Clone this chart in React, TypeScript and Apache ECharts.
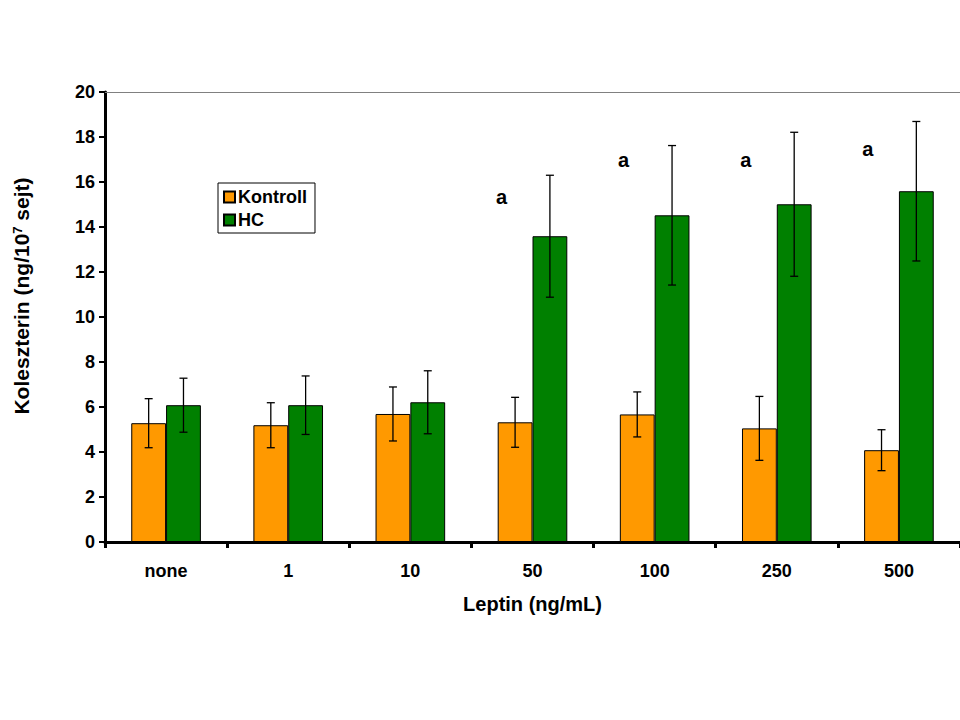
import React, { useEffect, useRef } from "react";
import * as echarts from "echarts";

const categories = ["none", "1", "10", "50", "100", "250", "500"];
const kontrollValues = [5.28, 5.19, 5.69, 5.32, 5.67, 5.05, 4.08];
const kontrollErrors = [1.09, 1.0, 1.2, 1.11, 1.0, 1.42, 0.91];
const hcValues = [6.08, 6.08, 6.21, 13.59, 14.52, 15.01, 15.59];
const hcErrors = [1.2, 1.3, 1.4, 2.71, 3.1, 3.2, 3.1];
const annotationCategories = ["50", "100", "250", "500"];
const annotationValues = [15.35, 16.98, 16.98, 17.45];
const yTicks = { min: 0, max: 20, interval: 2 };

const FONT = "'Liberation Sans', Arial, sans-serif";
const ORANGE = "#FF9900";
const GREEN = "#008000";
const CAT_GAP = 0.43;

function errorSeries(name: string, values: number[], errors: number[], side: number) {
  return {
    type: "custom",
    name: name + " err",
    silent: true,
    z: 5,
    data: values.map((v, i) => [i, v - errors[i], v + errors[i]]),
    renderItem: (params: any, api: any) => {
      const idx = api.value(0);
      const catW = api.size([1, 0])[0];
      const barW = (catW * (1 - CAT_GAP)) / 2;
      const low = api.coord([idx, api.value(1)]);
      const high = api.coord([idx, api.value(2)]);
      const x = low[0] + (side * barW) / 2;
      const cap = 4;
      const style = { stroke: "#000", lineWidth: 1.3 };
      return {
        type: "group",
        children: [
          { type: "line", shape: { x1: x, y1: low[1], x2: x, y2: high[1] }, style },
          { type: "line", shape: { x1: x - cap, y1: low[1], x2: x + cap, y2: low[1] }, style },
          { type: "line", shape: { x1: x - cap, y1: high[1], x2: x + cap, y2: high[1] }, style },
        ],
      };
    },
  };
}

export default function App() {
  const ref = useRef<HTMLDivElement>(null);
  useEffect(() => {
    if (!ref.current) return;
    const chart = echarts.init(ref.current, undefined, { renderer: "svg" });
    chart.setOption({
      animation: false,
      backgroundColor: "#fff",
      textStyle: { fontFamily: FONT },
      grid: { left: 105, right: 0, top: 92, bottom: 178, containLabel: false },
      legend: {
        data: ["Kontroll", "HC"],
        orient: "vertical",
        left: 218,
        top: 183,
        itemWidth: 11,
        itemHeight: 11,
        itemGap: 5,
        padding: [5, 8, 4, 5],
        borderColor: "#000",
        borderWidth: 1,
        backgroundColor: "#fff",
        icon: "rect",
        textStyle: { fontFamily: FONT, fontWeight: "bold", fontSize: 18, color: "#000", padding: [0, 0, 0, -2] },
      },
      xAxis: [
        {
          type: "category",
          data: categories,
          name: "Leptin (ng/mL)",
          nameLocation: "middle",
          nameGap: 52,
          nameTextStyle: { fontFamily: FONT, fontWeight: "bold", fontSize: 20, color: "#000" },
          axisLine: { lineStyle: { color: "#000", width: 3 } },
          axisTick: { show: true, length: 6, lineStyle: { color: "#000", width: 3 } },
          axisLabel: { fontFamily: FONT, fontWeight: "bold", fontSize: 18, color: "#000", margin: 20 },
          splitLine: { show: false },
        },
        {
          type: "category",
          data: categories,
          position: "top",
          axisLine: { show: true, lineStyle: { color: "#808080", width: 1 } },
          axisTick: { show: false },
          axisLabel: { show: false },
        },
      ],
      yAxis: {
        type: "value",
        min: yTicks.min,
        max: yTicks.max,
        interval: yTicks.interval,
        name: "Koleszterin (ng/10{sup|7} sejt)",
        nameLocation: "middle",
        nameGap: 73,
        nameTextStyle: {
          fontFamily: FONT,
          fontWeight: "bold",
          fontSize: 21,
          color: "#000",
          padding: [0, 0, 0, 42],
          rich: {
            sup: { fontFamily: FONT, fontWeight: "bold", fontSize: 13, color: "#000", verticalAlign: "top", padding: [0, 0, 8, 0] },
          },
        },
        axisLine: { show: true, lineStyle: { color: "#000", width: 3 } },
        axisTick: { show: true, length: 6, lineStyle: { color: "#000", width: 2 } },
        axisLabel: { fontFamily: FONT, fontWeight: "bold", fontSize: 18, color: "#000", margin: 10 },
        splitLine: { show: false },
      },
      series: [
        {
          name: "Kontroll",
          type: "bar",
          data: kontrollValues,
          barGap: "0%",
          barCategoryGap: CAT_GAP * 100 + "%",
          itemStyle: { color: ORANGE, borderColor: "#000", borderWidth: 1 },
        },
        {
          name: "HC",
          type: "bar",
          data: hcValues,
          barGap: "0%",
          barCategoryGap: CAT_GAP * 100 + "%",
          itemStyle: { color: GREEN, borderColor: "#000", borderWidth: 1 },
        },
        errorSeries("Kontroll", kontrollValues, kontrollErrors, -1),
        errorSeries("HC", hcValues, hcErrors, 1),
        {
          type: "scatter",
          name: "annot",
          symbolSize: 0,
          silent: true,
          itemStyle: { opacity: 1 },
          data: annotationCategories.map((c, i) => [c, annotationValues[i]]),
          label: {
            show: true,
            formatter: "a",
            position: "inside",
            offset: [-31, 0],
            fontFamily: FONT,
            fontWeight: "bold",
            fontSize: 20,
            color: "#000",
          },
        },
      ],
    });
    return () => chart.dispose();
  }, []);
  return <div ref={ref} style={{ position: "absolute", left: 0, top: 0, width: 960, height: 720 }} />;
}
